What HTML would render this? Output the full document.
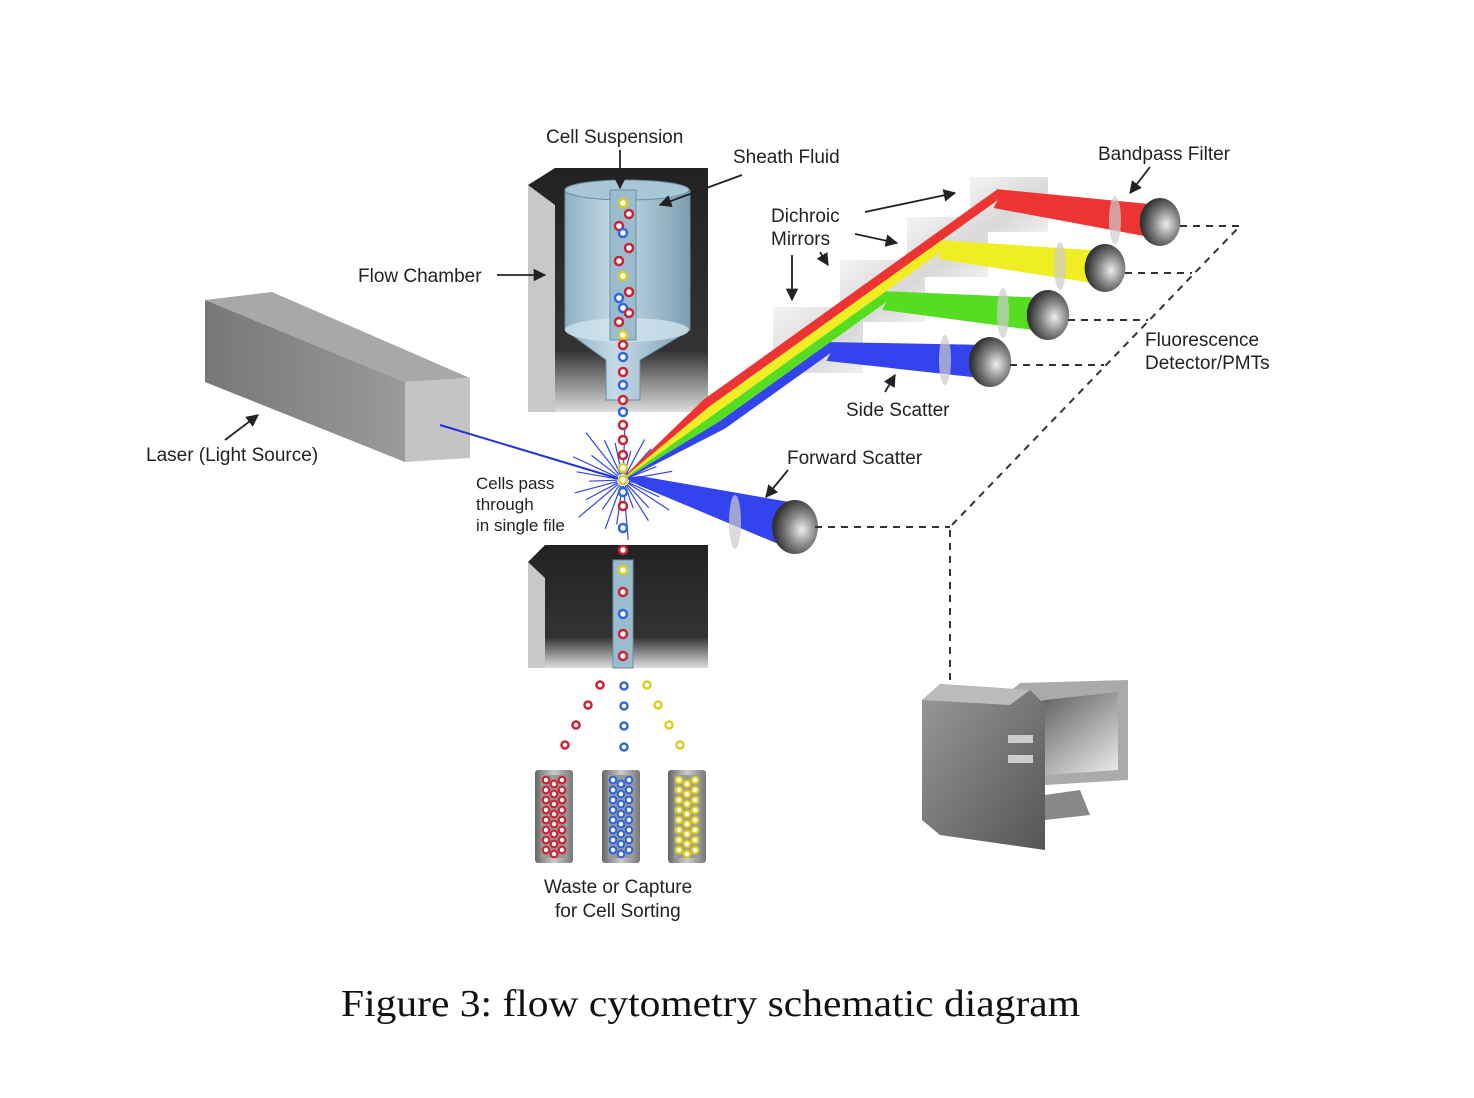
<!DOCTYPE html>
<html><head><meta charset="utf-8"><style>
html,body{margin:0;padding:0;background:#fff;}
svg{display:block;}
.lb{font-family:"Liberation Sans",sans-serif;font-size:19px;fill:#222;}
</style></head><body>
<svg id="fig" width="1474" height="1098" viewBox="0 0 1474 1098" xmlns="http://www.w3.org/2000/svg">
<defs>
<linearGradient id="gBox" x1="0" y1="0" x2="1" y2="0"><stop offset="0" stop-color="#777"/><stop offset="1" stop-color="#9a9a9a"/></linearGradient>
<linearGradient id="gInner" x1="0" y1="0" x2="0" y2="1"><stop offset="0" stop-color="#222"/><stop offset="0.75" stop-color="#333"/><stop offset="1" stop-color="#ddd"/></linearGradient>
<linearGradient id="gCyl" x1="0" y1="0" x2="1" y2="0"><stop offset="0" stop-color="#8fb0c4"/><stop offset="0.4" stop-color="#c5dbe7"/><stop offset="1" stop-color="#7e9fb3"/></linearGradient>
<linearGradient id="gMir" x1="0" y1="0" x2="1" y2="1"><stop offset="0" stop-color="#f4f4f4"/><stop offset="0.6" stop-color="#d8d8d8"/><stop offset="1" stop-color="#f0f0f0"/></linearGradient>
<radialGradient id="gDet" cx="0.65" cy="0.55" r="0.6"><stop offset="0" stop-color="#eee"/><stop offset="0.5" stop-color="#888"/><stop offset="1" stop-color="#333"/></radialGradient>
<linearGradient id="gTube" x1="0" y1="0" x2="1" y2="0"><stop offset="0" stop-color="#666"/><stop offset="0.5" stop-color="#ccc"/><stop offset="1" stop-color="#777"/></linearGradient>
<linearGradient id="gPc" x1="0" y1="0" x2="1" y2="1"><stop offset="0" stop-color="#999"/><stop offset="1" stop-color="#555"/></linearGradient>
<linearGradient id="gScr" x1="0" y1="0" x2="1" y2="1"><stop offset="0" stop-color="#444"/><stop offset="1" stop-color="#eee"/></linearGradient>
<marker id="ar" viewBox="0 0 10 10" refX="9" refY="5" markerWidth="7" markerHeight="7" orient="auto"><path d="M0,0L10,5L0,10z" fill="#222"/></marker>
</defs>

<g>
<polygon points="205,300 272,292 470,378 405,382" fill="#a8a8a8"/>
<polygon points="205,300 405,382 405,462 205,382" fill="url(#gBox)"/>
<polygon points="405,382 470,378 470,458 405,462" fill="#c4c4c4"/>
</g>
<line x1="440" y1="425" x2="623" y2="480" stroke="#2233dd" stroke-width="2"/>

<g>
<polygon points="528,185 555,168 708,168 708,412 528,412" fill="url(#gInner)"/>
<polygon points="528,185 555,205 555,412 528,412" fill="#c8c8c8"/>
<path d="M565,190 L690,190 L690,330 L640,360 L640,400 L606,400 L606,360 L565,330 Z" fill="url(#gCyl)" stroke="#6b8ea3"/>
<ellipse cx="627" cy="190" rx="62" ry="10" fill="#a8c6d6" stroke="#6b8ea3"/>
<ellipse cx="627" cy="330" rx="62" ry="12" fill="#cfe3ee" opacity="0.8"/>
<rect x="610" y="190" width="26" height="150" fill="#9bbccd" stroke="#6b8ea3"/>
</g>
<g>
<polygon points="528,562 545,545 708,545 708,668 528,668" fill="url(#gInner)"/>
<polygon points="528,562 545,578 545,668 528,668" fill="#c8c8c8"/>
<rect x="613" y="560" width="20" height="108" fill="#9bbccd" stroke="#6b8ea3"/>
</g>

<g id="burst" stroke="#3344ee" stroke-width="1.2"></g>

<g>
<rect x="970" y="177" width="78" height="55" fill="url(#gMir)"/>
<rect x="907" y="217" width="81" height="60" fill="url(#gMir)"/>
<rect x="840" y="260" width="85" height="62" fill="url(#gMir)"/>
<rect x="773" y="307" width="90" height="66" fill="url(#gMir)"/>
</g>
<g id="beams"></g>
<polygon points="625,478 640,476 795,503 795,551 640,486" fill="#3344ee"/>

<g id="dets"></g>

<g stroke="#333" stroke-width="2" stroke-dasharray="7,6" fill="none">
<path d="M1180,226 L1240,226 L950,527 L950,680"/>
<path d="M1125,273 L1192,273"/>
<path d="M1068,320 L1148,320"/>
<path d="M1010,365 L1104,365"/>
<path d="M815,527 L950,527"/>
</g>

<g>
<polygon points="1000,700 1020,683 1128,680 1128,780 1045,785" fill="#aaa"/>
<polygon points="1010,710 1045,700 1118,692 1118,770 1045,775" fill="url(#gScr)"/>
<polygon points="1045,795 1080,790 1090,815 1045,820" fill="#888"/>
<polygon points="922,700 940,684 1030,690 1045,705 1045,850 940,835 922,820" fill="url(#gPc)"/>
<polygon points="922,700 940,684 1030,690 1010,705" fill="#bbb"/>
<rect x="1008" y="735" width="25" height="8" fill="#ccc"/>
<rect x="1008" y="755" width="25" height="8" fill="#ccc"/>
</g>

<g id="cells"></g>
<g id="tubes"></g>

<g stroke="#222" stroke-width="1.8" fill="none" marker-end="url(#ar)">
<line x1="620" y1="150" x2="620" y2="188"/>
<line x1="742" y1="175" x2="660" y2="205"/>
<line x1="497" y1="275" x2="545" y2="275"/>
<line x1="225" y1="440" x2="258" y2="415"/>
<line x1="865" y1="212" x2="955" y2="193"/>
<line x1="855" y1="234" x2="897" y2="243"/>
<line x1="820" y1="252" x2="828" y2="265"/>
<line x1="792" y1="255" x2="792" y2="300"/>
<line x1="1150" y1="167" x2="1130" y2="193"/>
<line x1="885" y1="392" x2="895" y2="375"/>
<line x1="788" y1="470" x2="766" y2="497"/>
</g>
<text class="lb" x="546" y="143">Cell Suspension</text>
<text class="lb" x="733" y="163">Sheath Fluid</text>
<text class="lb" x="1098" y="160">Bandpass Filter</text>
<text class="lb" x="771" y="222">Dichroic</text>
<text class="lb" x="771" y="245">Mirrors</text>
<text class="lb" x="358" y="282">Flow Chamber</text>
<text class="lb" x="1145" y="346">Fluorescence</text>
<text class="lb" x="1145" y="369">Detector/PMTs</text>
<text class="lb" x="846" y="416">Side Scatter</text>
<text class="lb" x="146" y="461">Laser (Light Source)</text>
<text class="lb" x="787" y="464">Forward Scatter</text>
<text class="lb" x="476" y="489" style="font-size:17px">Cells pass</text>
<text class="lb" x="476" y="510" style="font-size:17px">through</text>
<text class="lb" x="476" y="531" style="font-size:17px">in single file</text>
<text class="lb" x="544" y="893">Waste or Capture</text>
<text class="lb" x="555" y="917">for Cell Sorting</text>
<text x="341" y="1016" textLength="739" lengthAdjust="spacingAndGlyphs" style="font-family:'Liberation Serif',serif;font-size:38px;fill:#111">Figure 3: flow cytometry schematic diagram</text>
</svg>
<script>
var NS="http://www.w3.org/2000/svg";
function mk(tag,attrs,parent){var e=document.createElementNS(NS,tag);for(var k in attrs)e.setAttribute(k,attrs[k]);parent.appendChild(e);return e;}
var beams=document.getElementById('beams');
var P0=[625,478], D=[0.813,-0.582], N=[0.582,0.813];
var bandColors=['#ee3333','#eeee22','#55dd22','#3344ee'];
var bandOff=[[-18,-9],[-9,0],[0,9],[9,18]];
var bendS=[465,390,315,240];
var dets=[[1160,222],[1105,268],[1048,315],[990,362]];
function pt(s,o){return [P0[0]+D[0]*s+N[0]*o, P0[1]+D[1]*s+N[1]*o];}
function fmt(q){return q[0].toFixed(1)+','+q[1].toFixed(1);}
var FULL=110;
for(var i=0;i<4;i++){
  var s1=bendS[i];
  var a=pt(0,bandOff[i][0]*0.1), b=pt(0,bandOff[i][1]*0.1);
  var m1=pt(FULL,bandOff[i][1]), m0=pt(FULL,bandOff[i][0]);
  var c=pt(s1,bandOff[i][1]), d=pt(s1,bandOff[i][0]);
  var p=mk('polygon',{points:[a,b,m1,c,d,m0].map(fmt).join(' '),fill:bandColors[i]},beams);
  
  
  var u=pt(s1+6,bandOff[i][0]), l=pt(s1-8,bandOff[i][1]+4);
  var h=mk('polygon',{points:[d,u,[dets[i][0],dets[i][1]-17],[dets[i][0],dets[i][1]+17],l,c].map(fmt).join(' '),fill:bandColors[i]},beams);
  
  
}
var burst=document.getElementById('burst');
var angles=[0,12,25,33,47,58,70,85,98,110,125,140,152,165,178,190,205,218,232,245,258,272,285,298,312,325,338,350];
var lens=[35,50,40,55,38,48,30,60,45,52,36,58,42,50,34,47,55,40,60,44,38,52,30,46,42,55,36,50];
angles.forEach(function(a,i){var r=a*Math.PI/180;
var l=mk('line',{x1:623+Math.cos(r)*6,y1:480+Math.sin(r)*6,x2:623+Math.cos(r)*lens[i],y2:480+Math.sin(r)*lens[i]},burst);

});
var detg=document.getElementById('dets');
var detPos=[[1160,222,24],[1105,268,24],[1048,315,25],[990,362,25],[795,527,27]];
detPos.forEach(function(p,i){
var off=i==4?60:45;
var rg=mk('ellipse',{cx:p[0]-off,cy:p[1]+(i==4?-5:-2),rx:6,ry:p[2],fill:'#ccc',opacity:0.7},detg);


var c=mk('ellipse',{cx:p[0],cy:p[1],rx:p[2]*0.85,ry:p[2],fill:'url(#gDet)'},detg);

});
var cells=document.getElementById('cells');
var colors={r:'#cc2233',b:'#3366dd',y:'#ddcc22'};
var stream='yrrbrryrbbrryrbrbrbrrryybrbryrbrry';
var ys=[203,214,226,233,248,261,276,292,298,308,313,322,335,345,357,372,385,400,412,425,440,455,468,480,492,506,528,550,570,592,614,634,656];
for(var i=0;i<ys.length;i++){var ch=stream[i];var x=623+((i%3==1&&ys[i]<340)?6:(i%3==2&&ys[i]<340?-4:0));
var c=mk('circle',{cx:x,cy:ys[i],r:4,fill:'#fff',stroke:colors[ch],'stroke-width':2.5},cells);

}
var falling=[[600,685,'r'],[588,705,'r'],[576,725,'r'],[565,745,'r'],[624,686,'b'],[624,706,'b'],[624,726,'b'],[624,747,'b'],[647,685,'y'],[658,705,'y'],[669,725,'y'],[680,745,'y']];
falling.forEach(function(f){var c=mk('circle',{cx:f[0],cy:f[1],r:3.5,fill:'#fff',stroke:colors[f[2]],'stroke-width':2.5},cells);

});
var tubes=document.getElementById('tubes');
[[535,'r'],[602,'b'],[668,'y']].forEach(function(t){
var g=mk('g',{},tubes);


mk('rect',{x:t[0],y:770,width:38,height:93,rx:3,fill:'url(#gTube)'},g);
mk('rect',{x:t[0]+6,y:775,width:26,height:83,fill:'#999'},g);
for(var r=0;r<8;r++)for(var k=0;k<3;k++){mk('circle',{cx:t[0]+11+k*8,cy:780+r*10+(k%2)*4,r:3.3,fill:'#fff',stroke:colors[t[1]],'stroke-width':2.2},g);}
});
</script>
</body></html>
